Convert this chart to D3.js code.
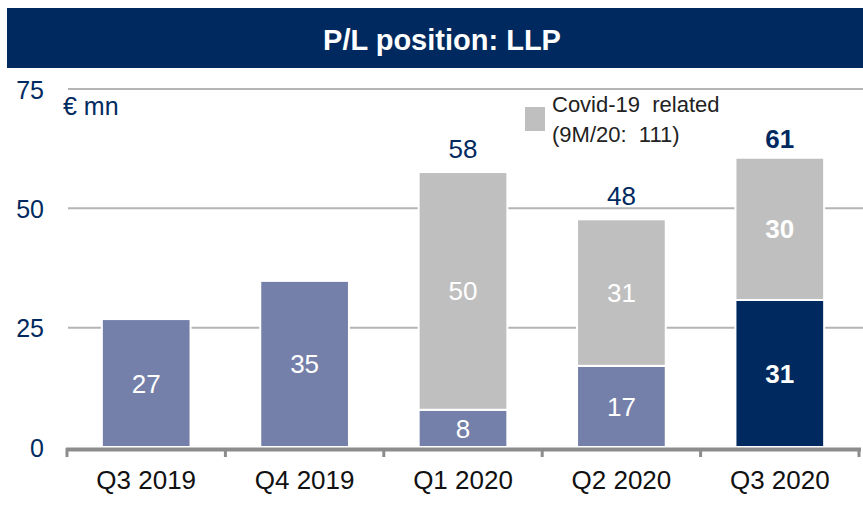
<!DOCTYPE html>
<html>
<head>
<meta charset="utf-8">
<script src="https://cdn.jsdelivr.net/npm/d3@7"></script>
<style>
  body { margin: 0; background: #fff; }
  svg { display: block; font-family: "Liberation Sans", Arial, sans-serif; }
</style>
</head>
<body>
<div id="chart"></div>
<script>
const WIDTH = 863;
const HEIGHT = 505;
const NAVY = "#002a5f";
const BLUE = "#7480a9";
const GREY = "#bfbfbf";

const quarters = ["Q3 2019", "Q4 2019", "Q1 2020", "Q2 2020", "Q3 2020"];
// bar heights as drawn (labels are the rounded figures)
const baseValues = [26.8, 34.8, 7.8, 17, 30.8];
const covidValues = [0, 0, 49.8, 30.7, 29.8];
const baseLabels = ["27", "35", "8", "17", "31"];
const covidLabels = [null, null, "50", "31", "30"];
const totalLabels = [null, null, "58", "48", "61"];
const yTicks = [0, 25, 50, 75];

const svg = d3.select("#chart")
  .append("svg")
  .attr("width", WIDTH)
  .attr("height", HEIGHT);

// title banner
svg.append("rect")
  .attr("x", 7).attr("y", 8)
  .attr("width", WIDTH - 7).attr("height", 60)
  .attr("fill", NAVY);

svg.append("text")
  .attr("x", 442).attr("y", 50)
  .attr("text-anchor", "middle")
  .attr("fill", "#fff")
  .attr("font-size", 29)
  .attr("font-weight", "bold")
  .text("P/L position: LLP");

const x = d3.scaleBand()
  .domain(quarters)
  .range([67, 859])
  .paddingInner(0.44)
  .paddingOuter(0.22);

const y = d3.scaleLinear()
  .domain([0, 75])
  .range([447, 89]);

// gridlines
svg.append("g")
  .selectAll("line")
  .data(yTicks.filter(d => d > 0))
  .enter()
  .append("line")
  .attr("x1", 68)
  .attr("x2", WIDTH)
  .attr("y1", d => y(d))
  .attr("y2", d => y(d))
  .attr("stroke", "#b4b4b4")
  .attr("stroke-width", 2);

// y tick labels
svg.append("g")
  .selectAll("text")
  .data(yTicks)
  .enter()
  .append("text")
  .attr("x", 44)
  .attr("y", d => y(d) + 9.5)
  .attr("text-anchor", "end")
  .attr("fill", NAVY)
  .attr("font-size", 25)
  .text(d => d);

svg.append("text")
  .attr("x", 63).attr("y", 115)
  .attr("fill", NAVY)
  .attr("font-size", 25)
  .text("€ mn");

const data = quarters.map((q, i) => ({
  q,
  base: baseValues[i],
  covid: covidValues[i],
  baseLabel: baseLabels[i],
  covidLabel: covidLabels[i],
  total: totalLabels[i],
  last: i === quarters.length - 1
}));

// base segments
svg.append("g")
  .selectAll("rect")
  .data(data)
  .enter()
  .append("rect")
  .attr("x", d => x(d.q))
  .attr("width", x.bandwidth())
  .attr("y", d => y(d.base))
  .attr("height", d => y(0) - y(d.base))
  .attr("fill", d => d.last ? NAVY : BLUE)
  .attr("stroke", "#fff")
  .attr("stroke-width", 2);

// covid segments
svg.append("g")
  .selectAll("rect")
  .data(data.filter(d => d.covid > 0))
  .enter()
  .append("rect")
  .attr("x", d => x(d.q))
  .attr("width", x.bandwidth())
  .attr("y", d => y(d.base + d.covid))
  .attr("height", d => y(d.base) - y(d.base + d.covid))
  .attr("fill", GREY)
  .attr("stroke", "#fff")
  .attr("stroke-width", 2);

// segment labels
svg.append("g")
  .selectAll("text")
  .data(data)
  .enter()
  .append("text")
  .attr("x", d => x(d.q) + x.bandwidth() / 2)
  .attr("y", d => (y(0) + y(d.base)) / 2 + 9.5)
  .attr("text-anchor", "middle")
  .attr("fill", "#fff")
  .attr("font-size", 26)
  .attr("font-weight", d => d.last ? "bold" : "normal")
  .text(d => d.baseLabel);

svg.append("g")
  .selectAll("text")
  .data(data.filter(d => d.covidLabel))
  .enter()
  .append("text")
  .attr("x", d => x(d.q) + x.bandwidth() / 2)
  .attr("y", d => (y(d.base) + y(d.base + d.covid)) / 2 + 9.5)
  .attr("text-anchor", "middle")
  .attr("fill", "#fff")
  .attr("font-size", 26)
  .attr("font-weight", d => d.last ? "bold" : "normal")
  .text(d => d.covidLabel);

// totals
svg.append("g")
  .selectAll("text")
  .data(data.filter(d => d.total))
  .enter()
  .append("text")
  .attr("x", d => x(d.q) + x.bandwidth() / 2)
  .attr("y", d => y(d.base + d.covid) - (d.last ? 10 : 14))
  .attr("text-anchor", "middle")
  .attr("fill", NAVY)
  .attr("font-size", 26)
  .attr("font-weight", d => d.last ? "bold" : "normal")
  .text(d => d.total);

// x axis
const xAxis = d3.axisBottom(x).tickSize(0).tickPadding(22);
const gx = svg.append("g")
  .attr("transform", `translate(0,${y(0) + 2})`)
  .call(xAxis);
gx.select(".domain").remove();
gx.selectAll("text")
  .attr("font-size", 26)
  .attr("fill", "#111")
  .attr("font-family", "Liberation Sans, Arial, sans-serif");

const axisG = svg.append("g").attr("stroke", "#8c8c8c");
axisG.append("line")
  .attr("x1", 66).attr("x2", 861)
  .attr("y1", y(0) + 2.5).attr("y2", y(0) + 2.5)
  .attr("stroke-width", 4);
const edges = quarters.map(q => x(q) - x.step() * x.paddingInner() / 2).concat([859]);
axisG.selectAll("line.tick")
  .data(edges)
  .enter()
  .append("line")
  .attr("class", "tick")
  .attr("x1", d => d).attr("x2", d => d)
  .attr("y1", y(0) + 1).attr("y2", y(0) + 10)
  .attr("stroke-width", 3);

// legend
svg.append("rect")
  .attr("x", 525).attr("y", 107)
  .attr("width", 20).attr("height", 24)
  .attr("fill", GREY);
svg.append("text")
  .attr("x", 552).attr("y", 112)
  .attr("fill", "#222")
  .attr("font-size", 22)
  .attr("xml:space", "preserve")
  .text("Covid-19  related");
svg.append("text")
  .attr("x", 552).attr("y", 142)
  .attr("fill", "#222")
  .attr("font-size", 22)
  .attr("xml:space", "preserve")
  .text("(9M/20:  111)");
</script>
</body>
</html>
